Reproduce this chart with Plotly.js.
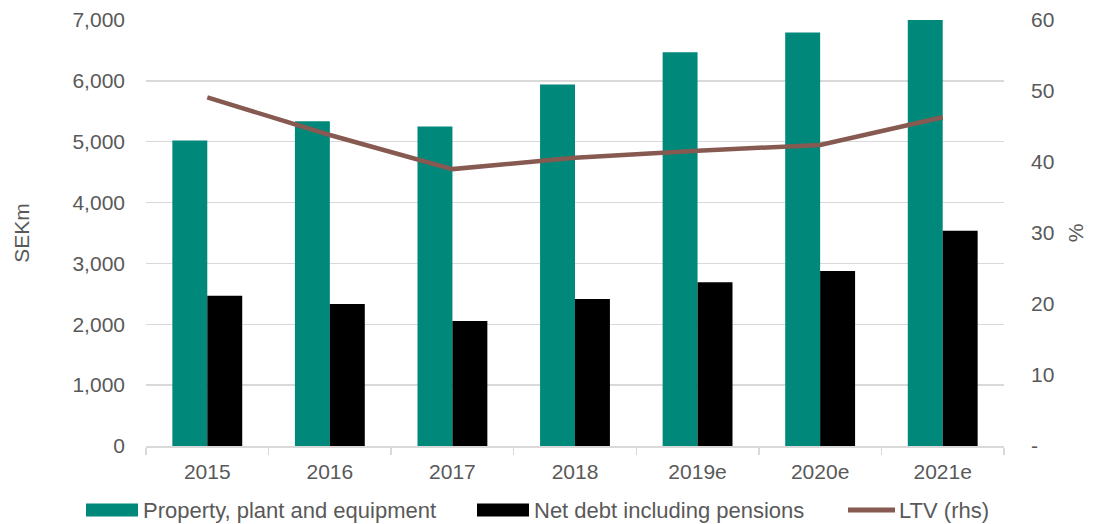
<!DOCTYPE html>
<html>
<head>
<meta charset="utf-8">
<script src="https://cdn.plot.ly/plotly-3.0.1.min.js"></script>
<style>html,body{margin:0;padding:0;background:#fff;}#chart{width:1100px;height:524px;}</style>
</head>
<body>
<div id="chart"></div>
<script>
const categories = ["2015", "2016", "2017", "2018", "2019e", "2020e", "2021e"];
const ppeValues = [5020, 5335, 5250, 5940, 6470, 6795, 7000];
const netDebtValues = [2470, 2335, 2055, 2415, 2690, 2875, 3535];
const ltvValues = [49.1, 43.8, 39.0, 40.6, 41.6, 42.4, 46.3];
const seriesNames = ["Property, plant and equipment", "Net debt including pensions", "LTV (rhs)"];
const leftTickVals = [0, 1000, 2000, 3000, 4000, 5000, 6000, 7000];
const leftTickText = ["0", "1,000", "2,000", "3,000", "4,000", "5,000", "6,000", "7,000"];
const rightTickVals = [0, 10, 20, 30, 40, 50, 60];
const rightTickText = ["-", "10", "20", "30", "40", "50", "60"];

const teal = "#00887a";
const brown = "#875a51";
const txt = "#595959";
const grid = "#d9d9d9";
const font = {family: "Liberation Sans, Arial, sans-serif", size: 21, color: txt};
const legFont = {family: "Liberation Sans, Arial, sans-serif", size: 22, color: txt};

const traces = [
  {type: "bar", x: categories, y: ppeValues, name: seriesNames[0], marker: {color: teal}, hoverinfo: "skip"},
  {type: "bar", x: categories, y: netDebtValues, name: seriesNames[1], marker: {color: "#000000"}, hoverinfo: "skip"},
  {type: "scatter", mode: "lines", x: categories, y: ltvValues, name: seriesNames[2], yaxis: "y2",
   line: {color: brown, width: 4.5}, hoverinfo: "skip"}
];

const L = 146, R = 1004, T = 20, B = 446;
const px = v => (v - L) / (R - L);
const py = v => (B - v) / (B - T);
const legY = 510;

const shapes = [
  {type: "rect", xref: "paper", yref: "paper", x0: px(86), x1: px(138), y0: py(legY + 6.5), y1: py(legY - 6.5), fillcolor: teal, line: {width: 0}},
  {type: "rect", xref: "paper", yref: "paper", x0: px(477), x1: px(529), y0: py(legY + 6.5), y1: py(legY - 6.5), fillcolor: "#000000", line: {width: 0}},
  {type: "line", xref: "paper", yref: "paper", x0: px(848), x1: px(895), y0: py(legY), y1: py(legY), line: {color: brown, width: 5}}
];
const annotations = [
  {xref: "paper", yref: "paper", x: px(141), y: py(legY), xanchor: "left", yanchor: "middle", text: seriesNames[0], showarrow: false, font: legFont},
  {xref: "paper", yref: "paper", x: px(532), y: py(legY), xanchor: "left", yanchor: "middle", text: seriesNames[1], showarrow: false, font: legFont},
  {xref: "paper", yref: "paper", x: px(897), y: py(legY), xanchor: "left", yanchor: "middle", text: seriesNames[2], showarrow: false, font: legFont}
];

const layout = {
  width: 1100, height: 524,
  margin: {l: L, r: 1100 - R, t: T, b: 524 - B, pad: 0},
  paper_bgcolor: "#ffffff", plot_bgcolor: "#ffffff",
  font: font,
  showlegend: false,
  barmode: "group", bargap: 0.43, bargroupgap: 0,
  xaxis: {
    type: "category", showgrid: false, showline: true, linecolor: grid, linewidth: 1.5,
    ticks: "outside", tickson: "boundaries", ticklen: 7, tickcolor: grid, tickwidth: 1.5,
    tickfont: font, ticklabelstandoff: 6, zeroline: false, fixedrange: true
  },
  yaxis: {
    range: [0, 7000], tickvals: leftTickVals, ticktext: leftTickText, tickfont: font,
    showgrid: true, gridcolor: grid, gridwidth: 1.5, zeroline: false, showline: false,
    ticks: "", ticklabelstandoff: 20,
    title: {text: "SEKm", font: font, standoff: 37}, fixedrange: true
  },
  yaxis2: {
    overlaying: "y", side: "right", range: [0, 60], tickvals: rightTickVals, ticktext: rightTickText,
    tickfont: font, showgrid: false, zeroline: false, showline: false, ticks: "", ticklabelstandoff: 26,
    title: {text: "%", font: font, standoff: 14}, fixedrange: true
  },
  shapes: shapes,
  annotations: annotations
};

Plotly.newPlot("chart", traces, layout, {displayModeBar: false, staticPlot: true});
</script>
</body>
</html>
